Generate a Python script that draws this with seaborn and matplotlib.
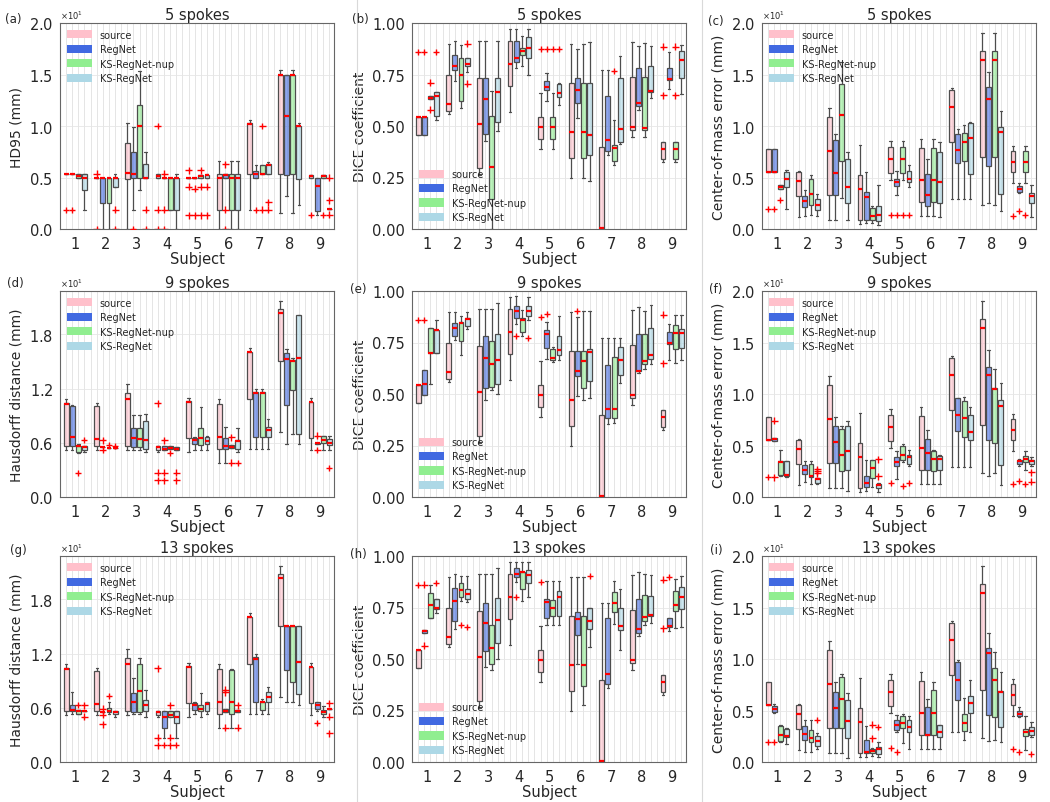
import numpy as np
import pandas as pd
import matplotlib
matplotlib.use("Agg")
import matplotlib.pyplot as plt
import seaborn as sns
from matplotlib.patches import Patch
from matplotlib.lines import Line2D
from matplotlib.ticker import ScalarFormatter, MultipleLocator, StrMethodFormatter

sns.set_style("white")
plt.rcParams["font.family"] = ["DejaVu Sans"]

methods = ["source", "RegNet", "KS-RegNet-nup", "KS-RegNet"]
colors = ["pink", "royalblue", "lightgreen", "lightblue"]
subjects = [str(i) for i in range(1, 10)]

# five-number summaries per box: (low whisker, q1, median, q3, high whisker)
# fliers: (subject, method index, values)

# ---- HD95, 5 spokes ----
hd95_src = [(5.35, 5.35, 5.35, 5.35, 5.35), (4.95, 4.95, 4.95, 4.95, 4.95), (0.0, 4.9, 5.45, 8.35, 10.3),
            (5.0, 5.0, 5.15, 5.3, 5.3), (5.0, 5.0, 5.0, 5.0, 5.0), (0.0, 1.85, 5.0, 5.3, 6.6),
            (1.85, 5.3, 10.2, 10.3, 10.6), (1.6, 5.3, 15.0, 15.0, 15.4), (5.0, 5.0, 5.1, 5.2, 5.2)]
hd95_src_fliers = [(1, 0, [1.85]), (2, 0, [5.35, 0.0]), (4, 0, [10.0, 1.85, 0.0]),
                   (5, 0, [5.7, 4.1, 1.35]), (9, 0, [1.4])]
hd95_5 = [
    [(5.35, 5.35, 5.35, 5.35, 5.35), (5.0, 5.0, 5.15, 5.35, 5.35), (1.85, 3.75, 5.0, 5.3, 5.3)],
    [(0.0, 2.55, 4.95, 4.95, 4.95), (0.0, 2.55, 4.95, 4.95, 4.95), (4.05, 4.1, 4.95, 4.95, 5.35)],
    [(1.85, 5.0, 5.35, 7.5, 9.95), (3.75, 5.0, 10.0, 12.0, 15.3), (5.0, 5.0, 5.0, 6.3, 7.5)],
    [(5.0, 5.0, 5.0, 5.0, 5.0), (1.85, 1.85, 5.0, 5.0, 5.0), (0.0, 1.85, 5.0, 5.0, 5.35)],
    [(5.0, 5.0, 5.0, 5.0, 5.0), (5.0, 5.0, 5.1, 5.2, 5.2), (5.0, 5.0, 5.2, 5.2, 5.35)],
    [(5.0, 5.0, 5.2, 5.3, 5.3), (0.0, 1.85, 5.0, 5.3, 6.6), (0.0, 1.85, 5.0, 5.3, 6.6)],
    [(5.0, 5.0, 5.3, 5.6, 6.2), (5.35, 5.35, 5.35, 6.2, 6.2), (5.35, 5.35, 6.2, 6.3, 6.5)],
    [(3.25, 5.2, 11.0, 15.0, 15.0), (1.6, 5.3, 15.0, 15.0, 15.4), (2.3, 4.9, 10.0, 10.0, 10.3)],
    [(1.4, 1.7, 4.2, 5.0, 5.0), (5.0, 5.0, 5.1, 5.2, 5.2), (1.95, 1.95, 1.95, 1.95, 1.95)],
]
hd95_5_fliers = [(1, 1, [1.85]), (2, 3, [1.85, 0.0]), (3, 1, [0.0]), (3, 3, [1.85, 0.0]),
                 (4, 1, [5.35, 1.85, 0.0]), (5, 1, [3.9, 1.35]), (5, 2, [5.7, 4.1, 1.35]),
                 (5, 3, [4.1, 1.35]), (6, 1, [6.3, 1.85, 0.0]), (7, 1, [1.85]), (7, 2, [10.0, 1.85]),
                 (7, 3, [2.6, 1.85]), (9, 2, [1.4]), (9, 3, [5.0, 2.8, 1.4])]

# ---- DICE ----
dice_src = [(0.455, 0.455, 0.545, 0.545, 0.545), (0.56, 0.575, 0.605, 0.75, 0.90), (0.26, 0.295, 0.51, 0.735, 0.915),
            (0.57, 0.695, 0.80, 0.915, 0.97), (0.39, 0.435, 0.495, 0.545, 0.66), (0.25, 0.345, 0.47, 0.71, 0.90),
            (0.0, 0.0, 0.005, 0.40, 0.77), (0.445, 0.48, 0.495, 0.74, 0.91), (0.325, 0.34, 0.39, 0.42, 0.42)]
dice_src_fliers = [(1, 0, [0.86]), (5, 0, [0.875]), (9, 0, [0.885, 0.65])]
dice_5 = [
    [(0.455, 0.455, 0.545, 0.545, 0.545), (0.63, 0.63, 0.637, 0.645, 0.645), (0.53, 0.55, 0.645, 0.665, 0.665)],
    [(0.72, 0.77, 0.79, 0.845, 0.915), (0.585, 0.62, 0.75, 0.83, 0.895), (0.76, 0.79, 0.80, 0.83, 0.83)],
    [(0.425, 0.46, 0.63, 0.735, 0.915), (0.0, 0.145, 0.30, 0.55, 0.67), (0.475, 0.52, 0.665, 0.735, 0.915)],
    [(0.78, 0.81, 0.83, 0.915, 0.97), (0.79, 0.845, 0.865, 0.88, 0.935), (0.75, 0.83, 0.88, 0.93, 0.97)],
    [(0.62, 0.675, 0.69, 0.72, 0.755), (0.39, 0.435, 0.495, 0.545, 0.66), (0.60, 0.64, 0.66, 0.705, 0.71)],
    [(0.54, 0.61, 0.675, 0.735, 0.875), (0.25, 0.345, 0.47, 0.71, 0.90), (0.235, 0.36, 0.455, 0.71, 0.91)],
    [(0.36, 0.38, 0.43, 0.645, 0.77), (0.31, 0.33, 0.395, 0.41, 0.53), (0.415, 0.42, 0.485, 0.735, 0.84)],
    [(0.58, 0.595, 0.61, 0.78, 0.89), (0.445, 0.48, 0.49, 0.74, 0.905), (0.635, 0.665, 0.67, 0.79, 0.89)],
    [(0.68, 0.725, 0.73, 0.78, 0.86), (0.325, 0.34, 0.39, 0.42, 0.42), (0.655, 0.735, 0.82, 0.865, 0.895)],
]
dice_5_fliers = [(1, 1, [0.86]), (1, 2, [0.71, 0.58]), (1, 3, [0.86]), (2, 3, [0.90, 0.705]),
                 (5, 1, [0.875]), (5, 2, [0.875]), (5, 3, [0.875]), (7, 2, [0.765]), (9, 2, [0.885, 0.65])]
dice_9 = [
    [(0.495, 0.495, 0.55, 0.615, 0.615), (0.55, 0.70, 0.70, 0.82, 0.82), (0.70, 0.70, 0.81, 0.81, 0.86)],
    [(0.76, 0.78, 0.82, 0.845, 0.90), (0.69, 0.755, 0.845, 0.85, 0.88), (0.815, 0.83, 0.865, 0.87, 0.90)],
    [(0.47, 0.53, 0.675, 0.78, 0.915), (0.52, 0.535, 0.645, 0.755, 0.915), (0.50, 0.55, 0.665, 0.79, 0.94)],
    [(0.84, 0.87, 0.905, 0.925, 0.975), (0.78, 0.80, 0.86, 0.87, 0.91), (0.86, 0.88, 0.905, 0.925, 0.97)],
    [(0.67, 0.725, 0.79, 0.81, 0.85), (0.655, 0.665, 0.675, 0.72, 0.73), (0.665, 0.69, 0.715, 0.78, 0.88)],
    [(0.49, 0.585, 0.61, 0.71, 0.875), (0.47, 0.53, 0.66, 0.71, 0.905), (0.48, 0.565, 0.705, 0.72, 0.905)],
    [(0.355, 0.385, 0.425, 0.64, 0.77), (0.36, 0.385, 0.425, 0.68, 0.77), (0.555, 0.59, 0.665, 0.73, 0.77)],
    [(0.60, 0.61, 0.61, 0.79, 0.92), (0.62, 0.645, 0.66, 0.79, 0.905), (0.645, 0.67, 0.69, 0.82, 0.93)],
    [(0.665, 0.745, 0.75, 0.80, 0.84), (0.65, 0.72, 0.795, 0.835, 0.885), (0.665, 0.725, 0.795, 0.815, 0.885)],
]
dice_9_fliers = [(1, 1, [0.86]), (4, 1, [0.78]), (4, 3, [0.77]), (5, 1, [0.89]), (6, 1, [0.905])]
dice_13 = [
    [(0.625, 0.625, 0.635, 0.64, 0.64), (0.70, 0.70, 0.76, 0.82, 0.86), (0.725, 0.745, 0.75, 0.79, 0.79)],
    [(0.645, 0.685, 0.78, 0.845, 0.915), (0.78, 0.80, 0.835, 0.87, 0.905), (0.775, 0.79, 0.815, 0.84, 0.905)],
    [(0.46, 0.54, 0.675, 0.77, 0.915), (0.445, 0.475, 0.555, 0.665, 0.915), (0.50, 0.58, 0.69, 0.795, 0.94)],
    [(0.875, 0.90, 0.915, 0.94, 0.97), (0.78, 0.84, 0.92, 0.92, 0.97), (0.80, 0.87, 0.91, 0.93, 0.97)],
    [(0.665, 0.70, 0.775, 0.79, 0.88), (0.665, 0.71, 0.75, 0.785, 0.88), (0.665, 0.71, 0.80, 0.83, 0.88)],
    [(0.475, 0.615, 0.695, 0.73, 0.90), (0.275, 0.37, 0.47, 0.71, 0.90), (0.56, 0.645, 0.685, 0.75, 0.75)],
    [(0.36, 0.38, 0.425, 0.70, 0.77), (0.67, 0.73, 0.77, 0.825, 0.88), (0.545, 0.64, 0.66, 0.75, 0.84)],
    [(0.61, 0.625, 0.645, 0.79, 0.92), (0.665, 0.685, 0.705, 0.81, 0.915), (0.675, 0.71, 0.715, 0.805, 0.91)],
    [(0.635, 0.655, 0.66, 0.70, 0.70), (0.65, 0.735, 0.76, 0.83, 0.89), (0.655, 0.745, 0.80, 0.85, 0.905)],
]
dice_13_fliers = [(1, 1, [0.86, 0.565]), (1, 3, [0.87]), (2, 2, [0.665]), (2, 3, [0.655]),
                  (4, 1, [0.80]), (6, 3, [0.905]), (9, 1, [0.90])]

# ---- Center-of-mass error ----
com_src = [(5.55, 5.55, 5.55, 7.8, 7.8), (1.2, 3.2, 4.7, 5.5, 5.6), (0.9, 3.3, 7.6, 10.9, 11.7),
           (0.5, 0.9, 3.9, 5.2, 8.2), (4.8, 5.4, 6.8, 8.0, 8.5), (1.3, 2.6, 4.8, 7.9, 8.7),
           (2.9, 8.4, 11.8, 13.5, 13.7), (2.3, 7.0, 16.4, 17.3, 19.0), (4.5, 5.5, 6.5, 7.6, 8.1)]
com_src_fliers = [(1, 0, [1.9]), (5, 0, [1.35]), (9, 0, [1.3])]
com_5 = [
    [(5.55, 5.55, 5.55, 7.8, 7.8), (3.9, 3.9, 4.05, 4.3, 4.3), (1.95, 4.1, 4.9, 5.5, 5.7)],
    [(1.3, 2.1, 2.7, 3.2, 3.8), (1.4, 2.3, 3.4, 4.9, 5.2), (1.3, 1.8, 2.35, 2.9, 3.4)],
    [(0.9, 3.3, 5.4, 8.6, 9.2), (3.0, 6.6, 11.1, 14.1, 16.2), (0.9, 2.5, 4.1, 6.8, 7.5)],
    [(0.6, 0.9, 3.1, 3.6, 5.5), (0.6, 0.9, 1.3, 2.0, 2.2), (0.4, 0.8, 1.4, 2.2, 4.3)],
    [(3.3, 4.2, 4.55, 4.9, 5.6), (4.8, 5.4, 6.8, 8.0, 8.5), (4.1, 4.6, 4.9, 5.6, 6.2)],
    [(1.3, 2.2, 3.3, 5.3, 6.8), (1.3, 2.6, 4.8, 7.9, 8.7), (1.2, 2.5, 4.6, 7.5, 8.4)],
    [(2.9, 6.4, 7.7, 9.2, 9.7), (2.9, 6.6, 8.4, 9.3, 10.1), (2.9, 5.3, 8.8, 10.3, 10.4)],
    [(2.5, 6.1, 12.6, 13.8, 15.2), (2.3, 7.0, 16.4, 17.3, 19.0), (1.7, 3.4, 9.4, 9.9, 11.5)],
    [(3.5, 3.6, 3.9, 4.2, 4.5), (4.5, 5.5, 6.5, 7.6, 8.1), (1.2, 2.5, 3.25, 3.5, 4.3)],
]
com_5_fliers = [(1, 1, [1.9]), (1, 2, [2.85]), (5, 1, [1.35]), (5, 2, [1.35]), (5, 3, [1.35]),
                (9, 1, [1.7]), (9, 2, [1.35])]
com_9 = [
    [(5.45, 5.45, 5.6, 5.7, 5.7), (2.0, 2.1, 3.35, 3.5, 4.6), (1.9, 2.0, 2.1, 3.5, 3.5)],
    [(1.5, 2.2, 2.65, 3.1, 3.5), (1.3, 1.9, 2.0, 3.2, 3.5), (1.25, 1.4, 1.75, 1.8, 1.85)],
    [(0.9, 3.3, 5.35, 6.9, 7.8), (0.9, 2.5, 4.1, 6.6, 6.9), (0.6, 2.6, 4.45, 6.9, 7.4)],
    [(0.6, 1.0, 1.4, 2.0, 3.6), (1.0, 1.8, 2.85, 3.55, 3.6), (0.5, 0.9, 1.2, 1.3, 1.4)],
    [(1.7, 3.0, 3.4, 3.9, 4.5), (3.4, 3.6, 4.1, 5.0, 5.1), (3.0, 3.2, 3.85, 4.1, 4.6)],
    [(1.3, 2.6, 4.3, 5.6, 6.5), (1.3, 2.5, 3.7, 4.5, 4.6), (1.3, 2.6, 3.7, 4.0, 4.1)],
    [(2.9, 6.4, 8.0, 9.6, 9.6), (2.9, 5.8, 7.7, 9.3, 9.7), (2.9, 5.5, 6.3, 8.0, 8.7)],
    [(2.0, 5.5, 11.8, 12.6, 14.3), (2.3, 5.2, 10.5, 10.6, 12.4), (1.2, 3.1, 8.8, 9.4, 11.1)],
    [(3.0, 3.2, 3.5, 3.6, 3.7), (2.6, 3.4, 3.7, 4.0, 4.5), (3.0, 3.2, 3.5, 3.6, 3.9)],
]
com_9_fliers = [(1, 1, [7.4, 1.9]), (2, 3, [2.5, 2.7, 2.3]), (4, 3, [3.65, 2.0]), (5, 2, [1.1]),
                (5, 3, [1.35]), (9, 1, [1.6]), (9, 2, [1.3]), (9, 3, [2.4, 1.5])]
com_13 = [
    [(4.8, 4.9, 5.1, 5.4, 5.6), (1.9, 2.0, 2.6, 3.5, 3.6), (1.7, 2.4, 2.5, 3.2, 3.3)],
    [(1.0, 2.1, 2.7, 3.5, 4.1), (1.0, 1.9, 2.3, 3.1, 4.1), (1.3, 1.6, 2.05, 2.5, 2.8)],
    [(0.9, 3.3, 5.2, 6.8, 7.8), (0.9, 3.3, 6.15, 8.3, 8.5), (0.4, 2.3, 4.0, 6.0, 6.7)],
    [(0.5, 0.9, 1.0, 2.1, 3.5), (0.6, 0.9, 1.1, 1.3, 1.4), (0.5, 0.8, 1.3, 1.5, 1.9)],
    [(2.9, 3.1, 3.6, 4.1, 4.6), (1.8, 3.3, 3.8, 4.5, 4.7), (1.3, 2.9, 3.4, 4.1, 4.5)],
    [(1.3, 2.6, 2.6, 5.3, 6.1), (1.3, 2.6, 4.8, 7.0, 7.8), (1.3, 2.4, 2.9, 3.6, 3.6)],
    [(2.9, 6.0, 8.0, 9.7, 9.9), (2.1, 3.0, 3.8, 4.7, 6.2), (2.9, 4.8, 5.7, 6.4, 8.0)],
    [(2.0, 4.6, 10.6, 11.1, 12.5), (2.1, 4.4, 8.0, 9.1, 10.7), (1.9, 3.4, 6.8, 6.9, 8.7)],
    [(4.4, 4.5, 4.7, 5.0, 5.3), (1.2, 2.5, 2.9, 3.2, 4.5), (2.4, 2.6, 3.0, 3.4, 3.9)],
]
com_13_fliers = [(1, 1, [1.9]), (2, 3, [4.1]), (4, 2, [3.6, 2.3]), (4, 3, [3.4]), (5, 1, [1.0]),
                 (9, 1, [1.0]), (9, 3, [0.8])]

# ---- Hausdorff distance ----
hd_src = [(5.2, 5.6, 10.3, 10.4, 10.8), (5.2, 5.6, 6.4, 10.1, 10.4), (5.2, 5.6, 10.8, 11.5, 12.5),
          (5.0, 5.2, 5.5, 5.6, 5.6), (5.0, 6.5, 10.5, 10.6, 11.0), (3.8, 5.3, 6.6, 10.3, 10.8),
          (5.3, 10.9, 16.0, 16.1, 16.5), (7.2, 15.0, 20.4, 20.8, 21.7), (5.2, 6.5, 10.5, 10.5, 11.0)]
hd_src_fliers = [(4, 0, [10.4, 2.7, 1.85])]
hd_9 = [
    [(5.2, 5.6, 6.6, 10.1, 10.2), (4.9, 5.0, 5.6, 5.6, 5.9), (5.0, 5.2, 5.55, 5.7, 5.7)],
    [(5.5, 5.5, 5.5, 5.5, 5.5), (5.4, 5.4, 5.4, 5.4, 5.4), (5.4, 5.4, 5.4, 5.4, 5.4)],
    [(5.2, 5.5, 6.5, 7.6, 9.1), (5.2, 5.5, 6.4, 7.6, 9.1), (5.0, 5.3, 6.3, 8.4, 9.2)],
    [(5.2, 5.2, 5.3, 5.6, 5.6), (5.3, 5.3, 5.4, 5.6, 5.6), (5.2, 5.2, 5.3, 5.5, 5.5)],
    [(5.2, 5.9, 6.3, 6.5, 6.6), (5.2, 5.8, 6.5, 7.6, 10.0), (5.2, 5.9, 6.2, 6.6, 6.8)],
    [(3.8, 5.3, 5.6, 6.5, 7.8), (5.4, 5.4, 5.5, 5.8, 5.8), (5.0, 5.3, 6.2, 6.3, 7.6)],
    [(5.3, 6.6, 11.5, 11.6, 12.0), (5.3, 6.6, 11.5, 11.6, 12.0), (5.3, 6.6, 7.4, 7.8, 8.6)],
    [(5.9, 10.2, 15.3, 15.9, 16.4), (7.0, 11.8, 15.0, 15.2, 15.4), (5.9, 7.0, 15.4, 20.1, 20.1)],
    [(5.9, 5.9, 6.0, 6.0, 6.0), (5.2, 6.0, 6.3, 6.7, 6.7), (5.2, 5.8, 6.0, 6.4, 6.7)],
]
hd_9_fliers = [(1, 2, [2.7]), (1, 3, [6.3]), (2, 1, [6.3, 5.2]), (2, 2, [5.8]), (2, 3, [5.7]),
               (4, 1, [6.3, 2.7, 1.85]), (4, 2, [4.9]), (4, 3, [2.7, 1.85]), (6, 2, [6.6, 3.8]),
               (6, 3, [3.8]), (9, 1, [6.8, 5.2]), (9, 3, [3.2])]
hd_13 = [
    [(5.3, 5.6, 5.8, 6.3, 7.7), (5.3, 5.3, 5.6, 5.8, 5.8), (5.7, 5.7, 5.7, 5.7, 5.7)],
    [(5.5, 5.5, 5.5, 5.5, 5.5), (5.3, 5.5, 5.7, 6.0, 6.6), (5.0, 5.3, 5.5, 5.7, 5.7)],
    [(5.3, 5.5, 6.6, 7.6, 9.3), (5.3, 5.5, 7.9, 10.9, 11.5), (5.0, 5.6, 6.3, 6.9, 8.0)],
    [(2.7, 3.8, 5.0, 5.6, 5.6), (5.0, 5.0, 5.2, 5.6, 5.6), (2.7, 4.3, 5.0, 5.6, 5.6)],
    [(5.3, 5.8, 6.3, 6.5, 6.6), (5.0, 5.6, 5.9, 6.3, 7.6), (5.3, 5.6, 6.4, 6.6, 6.6)],
    [(5.5, 5.5, 5.6, 5.9, 5.9), (3.8, 5.3, 6.6, 10.2, 10.3), (5.5, 5.5, 5.6, 5.8, 5.8)],
    [(5.3, 6.6, 11.4, 11.6, 12.0), (5.3, 5.8, 6.6, 6.6, 7.0), (5.3, 6.6, 7.2, 7.8, 8.3)],
    [(6.6, 10.2, 15.0, 15.0, 15.0), (6.6, 8.9, 15.0, 15.0, 15.0), (6.3, 7.5, 11.1, 15.0, 15.0)],
    [(5.6, 5.9, 6.3, 6.6, 6.6), (5.0, 5.3, 5.5, 5.8, 6.2), (5.9, 5.9, 5.9, 5.9, 5.9)],
]
hd_13_fliers = [(1, 2, [6.3]), (1, 3, [6.3, 5.0]), (2, 1, [5.9, 5.2, 4.2]), (2, 2, [7.3]),
                (4, 1, [1.85]), (4, 2, [6.3, 2.7, 1.85]), (4, 3, [1.85]), (6, 1, [7.7, 8.0, 3.8]),
                (6, 3, [6.3, 3.8]), (9, 1, [4.3]), (9, 3, [6.5, 5.0, 3.2])]

# label, title, ylabel, source, other methods, fliers, y-axis kind, legend location
panels = [
    ("(a)", "5 spokes", "HD95 (mm)", hd95_src, hd95_5, hd95_src_fliers + hd95_5_fliers, "mm20", "upper left"),
    ("(b)", "5 spokes", "DICE coefficient", dice_src, dice_5, dice_src_fliers + dice_5_fliers, "dice", "lower left"),
    ("(c)", "5 spokes", "Center-of-mass error (mm)", com_src, com_5, com_src_fliers + com_5_fliers, "mm20", "upper left"),
    ("(d)", "9 spokes", "Hausdorff distance (mm)", hd_src, hd_9, hd_src_fliers + hd_9_fliers, "mm22", "upper left"),
    ("(e)", "9 spokes", "DICE coefficient", dice_src, dice_9, dice_src_fliers + dice_9_fliers, "dice", "lower left"),
    ("(f)", "9 spokes", "Center-of-mass error (mm)", com_src, com_9, com_src_fliers + com_9_fliers, "mm20", "upper left"),
    ("(g)", "13 spokes", "Hausdorff distance (mm)", hd_src, hd_13, hd_src_fliers + hd_13_fliers, "mm22", "upper left"),
    ("(h)", "13 spokes", "DICE coefficient", dice_src, dice_13, dice_src_fliers + dice_13_fliers, "dice", "lower left"),
    ("(i)", "13 spokes", "Center-of-mass error (mm)", com_src, com_13, com_src_fliers + com_13_fliers, "mm20", "upper left"),
]


def stats_frame(src, rest):
    rows = []
    for s, subj in enumerate(subjects):
        for m, five in enumerate([src[s]] + list(rest[s])):
            for v in five:
                rows.append({"subject": subj, "method": methods[m], "value": v})
    return pd.DataFrame(rows)


def flier_frame(fliers):
    rows = [{"subject": str(s), "method": methods[m], "value": v}
            for s, m, vals in fliers for v in vals]
    return pd.DataFrame(rows)


W, H = 1050, 803
fig = plt.figure(figsize=(W / 100, H / 100), dpi=100)

col_left = [60, 412, 762]
row_top = [24, 292, 557]
label_pos = [(13, 20), (360, 20), (716, 22), (15, 283), (358, 290), (716, 289), (18, 551), (358, 555), (716, 551)]

palette = dict(zip(methods, colors))
red = dict(zip(methods, ["red"] * 4))

for i, (label, title, ylabel, src, rest, fl, kind, loc) in enumerate(panels):
    r, c = divmod(i, 3)
    ax = fig.add_axes([col_left[c] / W, 1 - (row_top[r] + 206) / H, 274 / W, 206 / H])

    sns.boxplot(data=stats_frame(src, rest), x="subject", y="value", hue="method",
                order=subjects, hue_order=methods, palette=palette, saturation=1,
                whis=(0, 100), showfliers=False, width=0.8, gap=0.2,
                linewidth=0.9, linecolor="0.3",
                medianprops={"color": "red", "linewidth": 1.6},
                legend=False, ax=ax)
    for patch in ax.patches:
        rr, gg, bb, _ = patch.get_facecolor()
        patch.set_facecolor((rr, gg, bb, 0.6))

    sns.stripplot(data=flier_frame(fl), x="subject", y="value", hue="method",
                  order=subjects, hue_order=methods, palette=red, dodge=True,
                  jitter=False, marker="+", size=5, linewidth=1, legend=False, ax=ax)

    ax.set_xlim(-0.5, 8.45)
    if kind == "dice":
        ax.set_ylim(0, 1)
        ax.yaxis.set_major_locator(MultipleLocator(0.25))
        ax.yaxis.set_major_formatter(StrMethodFormatter("{x:.2f}"))
    else:
        ax.set_ylim(0, 20 if kind == "mm20" else 22.8)
        ax.yaxis.set_major_locator(MultipleLocator(5 if kind == "mm20" else 6))
        fmt = ScalarFormatter(useMathText=True)
        fmt.set_powerlimits((0, 0))
        ax.yaxis.set_major_formatter(fmt)
        ax.yaxis.get_offset_text().set_fontsize(6)

    ax.set_xticks(np.arange(-0.3, 8.45, 0.2), minor=True)
    ax.grid(which="minor", axis="x", color="0.88", linewidth=0.6)
    ax.grid(which="major", axis="y", color="0.9", linewidth=0.6)
    ax.grid(which="major", axis="x", visible=False)
    ax.set_axisbelow(True)
    ax.tick_params(which="minor", length=0)
    ax.tick_params(which="major", length=3, pad=2, labelsize=10.5, color="0.3")
    for sp in ax.spines.values():
        sp.set_color("0.4")

    ax.set_title(title, fontsize=10.5, pad=3)
    ax.set_xlabel("Subject", fontsize=10.5, labelpad=0)
    ax.set_ylabel(ylabel, fontsize=10)

    handles = [Patch(facecolor=col, edgecolor="none") for col in colors]
    ax.legend(handles, methods, loc=loc, frameon=False, fontsize=7,
              handlelength=2.6, handleheight=0.9, labelspacing=0.45, borderaxespad=0.3)

    lx, ly = label_pos[i]
    fig.text(lx / W, 1 - ly / H, label, fontsize=8.5, ha="center", va="center")

for x in (357, 702):
    fig.add_artist(Line2D([x / W, x / W], [0, 1], color="0.85", linewidth=0.8))

fig.savefig("out.png", dpi=100)
